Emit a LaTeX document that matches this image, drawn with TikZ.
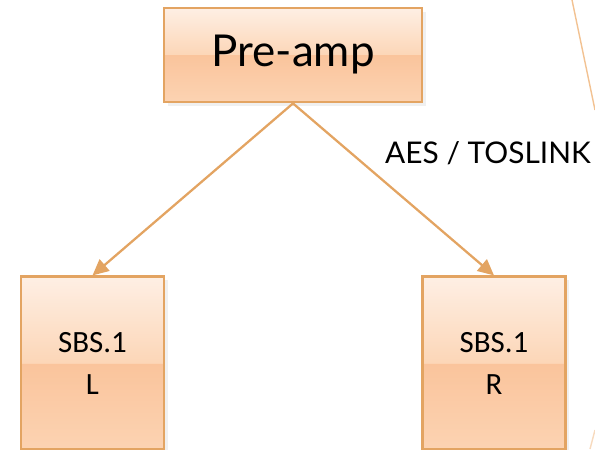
\documentclass[tikz,border=0pt]{standalone}
\usepackage{fontspec}
\newfontfamily\gillfont{Lato}
\newfontfamily\calfont{Carlito}
\usetikzlibrary{positioning, arrows.meta, shadows}

\definecolor{edgeorange}{HTML}{E3A462}
\definecolor{decoorange}{HTML}{F2C292}
\definecolor{shtop}{HTML}{FEEFE4}
\definecolor{shmid}{HTML}{FCD6B7}
\definecolor{shlow}{HTML}{FAC49C}
\definecolor{shbot}{HTML}{FCD3B2}

\pgfdeclareverticalshading{boxshade}{100bp}{%
  color(0bp)=(shbot); color(25bp)=(shbot);
  color(50bp)=(shlow); color(50.01bp)=(shmid);
  color(75bp)=(shtop); color(100bp)=(shtop)}

\tikzset{
  box/.style={draw=edgeorange, line width=1.6pt, shading=boxshade,
    rectangle, inner sep=0pt, align=center,
    drop shadow={opacity=0.12, shadow xshift=2pt, shadow yshift=-2pt}},
  spk/.style={box, minimum width=2.86cm, minimum height=3.46cm,
    font=\calfont\fontsize{17.6}{23.8}\selectfont},
  link/.style={draw=edgeorange, line width=1.3pt,
    -{Triangle[length=0.32cm, width=0.3cm]}}
}

\begin{document}
\begin{tikzpicture}
    \useasboundingbox (0,0) rectangle (11.9,-8.98);

        % Pre-amp on top
        \node (pre) [box, minimum width=5.16cm, minimum height=1.88cm,
            font=\gillfont\fontsize{25}{30}\selectfont] at (5.86,-1.10) {Pre-amp};

        % Speakers
        \node (sbsL) [spk, below=3.44cm of pre.south, xshift=-4.01cm] {SBS.1\\L};
        \node (sbsR) [spk, below=3.44cm of pre.south, xshift=4.02cm] {SBS.1\\R};

        % Links
        \draw[link] (pre.south) -- (sbsL.north);
        \draw[link] (pre.south) -- (sbsR.north);

        \node (aes) [font=\gillfont\fontsize{17}{20}\selectfont] at (9.76,-3.06) {AES / TOSLINK};

        % slide decoration
        \draw[decoorange, line width=0.8pt] (11.44,0) -- (11.9,-2.2);
        \draw[decoorange!60, line width=0.8pt] (11.8,-8.98) -- (11.9,-8.6);

\end{tikzpicture}
\end{document}
